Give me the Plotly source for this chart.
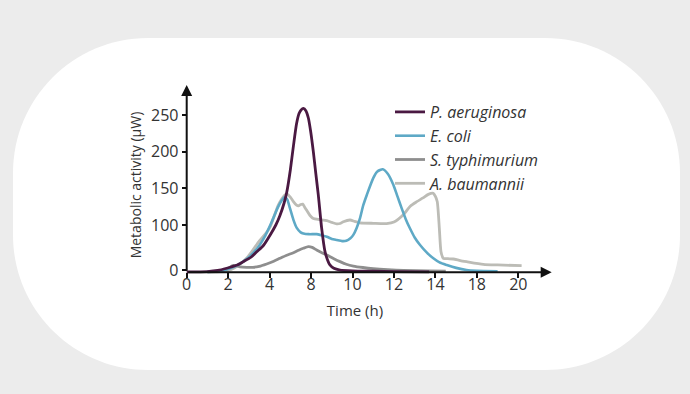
import plotly.graph_objects as go

# ---------------- data (axis units: x = time-axis position, y = metabolic activity, µW) -------------
x_tick_vals = [0, 2, 4, 6, 8, 10, 12, 14, 16]
x_tick_text = ["0", "2", "4", "8", "10", "12", "14", "18", "20"]
y_tick_vals = [38.5, 100, 150, 200, 250]
y_tick_text = ["0", "100", "150", "200", "250"]

pa_x = [0.0, 1.0, 1.5, 1.93, 2.4, 2.73, 3.1, 3.38, 3.7, 4.02, 4.3, 4.5, 4.7, 4.83, 5.0, 5.15, 5.3,
        5.42, 5.52, 5.63, 5.75, 5.87, 5.98, 6.11, 6.23, 6.35, 6.51, 6.67, 6.8, 6.91, 7.1, 7.4, 8.0,
        9.0, 10.0, 11.7]
pa_y = [36, 36.5, 38, 41, 45, 50, 56, 63.5, 72, 86, 100, 113, 130, 145, 175, 208, 238,
        252, 257, 259, 256, 246, 228, 200, 170, 141, 96, 64, 52, 45.5, 41, 38.6, 37.5,
        37, 36.5, 36]

ec_x = [1.0, 1.5, 2.0, 2.5, 3.0, 3.4, 3.8, 4.1, 4.4, 4.6, 4.74, 4.85, 4.98, 5.15, 5.31, 5.5, 5.63,
        5.9, 6.27, 6.5, 6.76, 7.0, 7.24, 7.5, 7.7, 7.9, 8.04, 8.2, 8.36, 8.52, 8.69, 9.0, 9.2, 9.46,
        9.7, 9.97, 10.17, 10.37, 10.57, 10.77, 11.0, 11.26, 11.6, 11.9, 12.2, 12.55, 13.0, 13.5,
        14.0, 15.0]
ec_y = [36, 37, 40, 46, 56, 68, 86, 104, 124, 134, 138, 135, 123, 107, 96, 90, 88.5,
        87.5, 87.5, 86, 84, 81, 79.5, 78, 78.5, 82, 86.5, 96, 109, 127, 141, 164, 173, 176,
        170, 155, 139, 123, 108, 95.5, 83, 72.7, 62, 54.6, 49, 45.4, 41.5, 38.6,
        37.5, 37]

st_x = [1.0, 1.6, 2.0, 2.25, 2.57, 2.9, 3.2, 3.5, 3.86, 4.2, 4.5, 4.8, 5.15, 5.4, 5.63, 5.87, 6.05,
        6.27, 6.5, 6.76, 7.1, 7.4, 7.7, 8.04, 8.5, 9.0, 9.7, 10.45, 11.6, 12.5]
st_y = [36, 37, 41, 45, 43, 42.3, 42.3, 43.5, 46.8, 50.5, 54.6, 58.5, 62.2, 65.5, 68.2, 70.4, 69.5,
        65.9, 62.5, 59, 54, 50, 46.5, 44, 42, 40.4, 39, 38, 37.5, 37]

ab_x = [1.0, 1.93, 2.5, 2.9, 3.2, 3.5, 3.86, 4.02, 4.18, 4.42, 4.6, 4.74, 4.85, 5.0, 5.15, 5.3, 5.39,
        5.5, 5.6, 5.7, 5.79, 5.95, 6.11, 6.4, 6.76, 7.0, 7.24, 7.4, 7.56, 7.88, 8.1, 8.36, 9.0, 9.65,
        10.0, 10.45, 10.8, 11.1, 11.4, 11.66, 11.9, 12.0, 12.09, 12.19, 12.27, 12.38, 12.6, 12.86,
        13.2, 13.51, 14.31, 15.0, 16.16]
ab_y = [36, 37, 45, 55, 66, 78, 90, 97, 109, 127, 136, 141, 142, 138, 132, 127, 126,
        128, 128.5, 124, 120, 113, 109, 107.5, 106, 103.5, 101.5, 102, 104.5, 106.8, 105, 103, 102.3, 102,
        104, 114, 126, 131.8, 137, 141.8, 143.2, 139, 131.8, 95.5, 63.6, 54.6, 54, 53.6,
        51.5, 50, 46.4, 45.5, 44.5]

series = [
    ("<i>A. baumannii</i>", ab_x, ab_y, "#bcbcb6", 2.8, 4),
    ("<i>S. typhimurium</i>", st_x, st_y, "#8e8e8e", 2.8, 3),
    ("<i>E. coli</i>", ec_x, ec_y, "#5ea9c6", 2.6, 2),
    ("<i>P. aeruginosa</i>", pa_x, pa_y, "#4a1942", 2.8, 1),
]

# ---------------- pixel geometry helpers (layout only) ----------------
W, H = 690, 394
px_per_x = 20.725      # pixels per x axis unit
x0_px = 186.7          # pixel of x = 0
px_per_y = 0.733       # pixels per µW
y100_px = 225.0        # pixel of y = 100
dom_x = [20 / W, 1.0]
dom_y = [24 / H, 1.0]
x_range = [(W * dom_x[0] - x0_px) / px_per_x, (W - x0_px) / px_per_x]
y_range = [100 - ((H - H * dom_y[0]) - y100_px) / px_per_y, 100 + y100_px / px_per_y]
base_y = 35.5
axis_pos_x = 186.7 / W
axis_pos_y = (H - 272.3) / H


def p(px, py):
    return f"{px / W:.5f},{1 - py / H:.5f}"


# rounded white card (pixels -> paper)
L, R, T, B, rad = 13, 680, 38, 370, 135
k = 0.5523 * rad
card = (
    f"M {p(L + rad, T)} L {p(R - rad, T)} "
    f"C {p(R - rad + k, T)} {p(R, T + rad - k)} {p(R, T + rad)} "
    f"L {p(R, B - rad)} "
    f"C {p(R, B - rad + k)} {p(R - rad + k, B)} {p(R - rad, B)} "
    f"L {p(L + rad, B)} "
    f"C {p(L + rad - k, B)} {p(L, B - rad + k)} {p(L, B - rad)} "
    f"L {p(L, T + rad)} "
    f"C {p(L, T + rad - k)} {p(L + rad - k, T)} {p(L + rad, T)} Z"
)

fig = go.Figure()
for name, xs, ys, col, lw, rank in series:
    fig.add_trace(go.Scatter(
        x=xs, y=ys, name=name, mode="lines",
        line=dict(color=col, width=lw, shape="spline", smoothing=0.6),
        legendrank=rank, hoverinfo="skip",
    ))

font_family = "Open Sans, Lato, sans-serif"

fig.update_layout(
    width=W, height=H, autosize=False,
    margin=dict(l=0, r=0, t=0, b=0, pad=0),
    paper_bgcolor="#ececec",
    plot_bgcolor="rgba(0,0,0,0)",
    font=dict(family=font_family, color="#333333"),
    shapes=[dict(type="path", path=card, xref="paper", yref="paper",
                 fillcolor="white", line=dict(width=0), layer="below")],
    xaxis=dict(
        domain=dom_x, range=x_range, anchor="free", position=axis_pos_y,
        showgrid=False, zeroline=False, showline=False,
        tickmode="array", tickvals=x_tick_vals, ticktext=x_tick_text,
        ticks="outside", ticklen=5, tickwidth=1.5, tickcolor="#111111",
        tickfont=dict(size=16, color="#333333"), ticklabelstandoff=-8,
        title=dict(text="Time (h)", font=dict(size=15, color="#333333"), standoff=11),
        automargin=False, fixedrange=True,
    ),
    yaxis=dict(
        domain=dom_y, range=y_range, anchor="free", position=axis_pos_x,
        showgrid=False, zeroline=False, showline=False,
        tickmode="array", tickvals=y_tick_vals, ticktext=y_tick_text,
        ticks="outside", ticklen=5, tickwidth=1.5, tickcolor="#111111",
        tickfont=dict(size=16, color="#333333"),
        title=dict(text="Metabolic activity (µW)", font=dict(size=14, color="#333333"), standoff=5),
        automargin=False, fixedrange=True,
    ),
    legend=dict(
        x=390 / W, y=1 - 95 / H, xanchor="left", yanchor="top",
        bgcolor="rgba(0,0,0,0)", borderwidth=0,
        font=dict(size=16, color="#333333"), tracegroupgap=0,
        itemclick=False, itemdoubleclick=False,
    ),
    annotations=[
        dict(x=0, y=291, ax=0, ay=base_y, xref="x", yref="y", axref="x", ayref="y",
             text="", showarrow=True, arrowhead=2, arrowsize=1.1, arrowwidth=2,
             arrowcolor="#111111", standoff=0, startstandoff=0),
        dict(x=17.61, y=base_y, ax=0, ay=base_y, xref="x", yref="y", axref="x", ayref="y",
             text="", showarrow=True, arrowhead=2, arrowsize=1.1, arrowwidth=2,
             arrowcolor="#111111", standoff=0, startstandoff=0),
    ],
)

fig.write_html(
    "out.html",
    config={"displayModeBar": False},
    post_script="document.body.style.margin='0';document.body.style.background='#ececec';",
)
